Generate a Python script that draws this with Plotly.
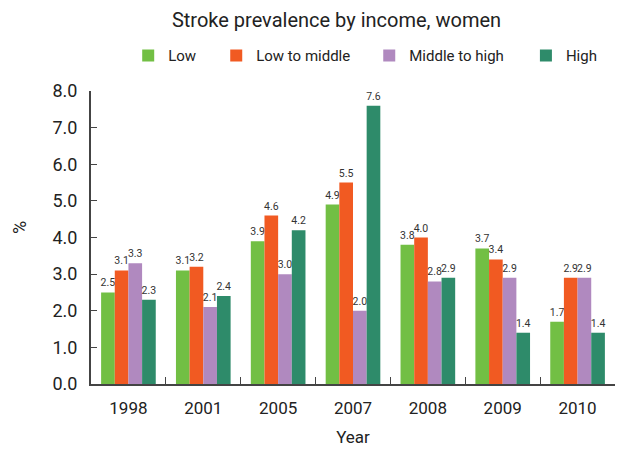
import plotly.graph_objects as go

years = ["1998", "2001", "2005", "2007", "2008", "2009", "2010"]
low = [2.5, 3.1, 3.9, 4.9, 3.8, 3.7, 1.7]
low_mid = [3.1, 3.2, 4.6, 5.5, 4.0, 3.4, 2.9]
mid_high = [3.3, 2.1, 3.0, 2.0, 2.8, 2.9, 2.9]
high = [2.3, 2.4, 4.2, 7.6, 2.9, 1.4, 1.4]

series = [
    ("Low", low, "#72BF44"),
    ("Low to middle", low_mid, "#F15A22"),
    ("Middle to high", mid_high, "#B089BF"),
    ("High", high, "#2E8B6A"),
]
legend_ids = ["legend", "legend2", "legend3", "legend4"]
legend_x = [0.071, 0.239, 0.531, 0.830]

FONT = "Roboto, sans-serif"

fig = go.Figure()
for (name, vals, color), lid in zip(series, legend_ids):
    fig.add_trace(go.Bar(
        x=years, y=vals, name=name, marker_color=color,
        marker_line_width=0, legend=lid, showlegend=True,
        text=[f"{v:.1f}" for v in vals], textposition="outside",
        constraintext="none",
        textfont=dict(size=10.5, color="#333333", family=FONT),
        cliponaxis=False,
    ))

legend_common = dict(orientation="h", xanchor="left", y=1.12, yanchor="middle",
                     font=dict(size=15, color="#222222", family=FONT),
                     itemwidth=30, bgcolor="rgba(0,0,0,0)", visible=True)
layout_legends = {lid: dict(x=lx, **legend_common) for lid, lx in zip(legend_ids, legend_x)}

fig.update_layout(
    width=622, height=450,
    margin=dict(l=91, r=7, t=91, b=66),
    paper_bgcolor="white", plot_bgcolor="white",
    font=dict(family=FONT, color="#222222"),
    showlegend=True,
    barmode="group", bargap=0.27, bargroupgap=0,
    title=dict(text="Stroke prevalence by income, women", x=0.541, xanchor="center",
               y=0.955, yanchor="middle", font=dict(size=20, color="#222222", family=FONT)),
    xaxis=dict(showline=True, linecolor="#444444", linewidth=2,
               ticks="inside", tickson="boundaries", ticklen=7, tickcolor="#444444",
               ticklabelstandoff=8,
               tickfont=dict(size=17, color="#222222", family=FONT),
               title=dict(text="Year", font=dict(size=17, color="#222222", family=FONT), standoff=14)),
    yaxis=dict(range=[0, 8], dtick=1, tickformat=".1f", showgrid=False, zeroline=False,
               showline=True, linecolor="#444444", linewidth=2,
               ticks="inside", ticklen=6, tickcolor="#444444",
               ticklabelstandoff=8,
               tickfont=dict(size=18, color="#222222", family=FONT)),
    annotations=[dict(text="%", xref="paper", yref="paper", x=-0.1355, y=0.536,
                      xanchor="center", yanchor="middle", textangle=-90, showarrow=False,
                      font=dict(size=18, color="#222222", family=FONT))],
    **layout_legends,
)

fig.write_html("out.html")
